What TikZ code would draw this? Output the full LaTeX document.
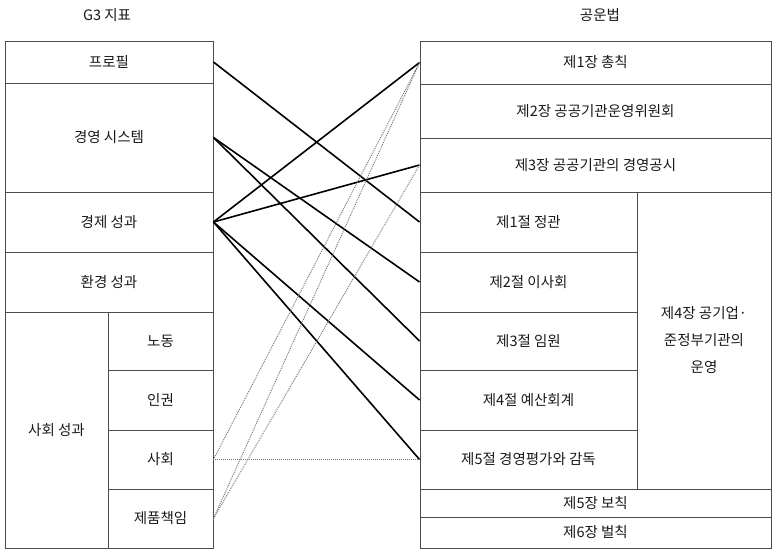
\documentclass[tikz,border=0pt]{standalone}
\usepackage{fontspec}
\setmainfont{Noto Sans CJK KR}
\begin{document}
\begin{tikzpicture}[x=1pt,y=-1pt,
  every node/.style={font=\fontsize{14.5}{27}\selectfont, text=black!90, inner sep=0pt},
  cell/.style={draw=black!70, line width=0.9pt, rectangle, align=center},
  link/.style={black, line width=1.6pt},
  dotlink/.style={black!55, line width=0.9pt, dash pattern=on 1pt off 1pt}]
\useasboundingbox (0,0) rectangle (772,550);
% titles
\node (t1) at (107,15) {G3 지표};
\node (t2) at (600,15) {공운법};
% left table
\node[cell, minimum width=208pt, minimum height=42pt] (prof) at (109,62) {프로필};
\node[cell, minimum width=208pt, minimum height=109pt] (sys) at (109,137.5) {경영 시스템};
\node[cell, minimum width=208pt, minimum height=60pt] (econ) at (109,222) {경제 성과};
\node[cell, minimum width=208pt, minimum height=60pt] (env) at (109,282) {환경 성과};
\node[cell, minimum width=103pt, minimum height=236pt] (soc) at (56.5,430) {사회 성과};
\node[cell, minimum width=105pt, minimum height=58pt] (labor) at (160.5,341) {노동};
\node[cell, minimum width=105pt, minimum height=60pt] (hr) at (160.5,400) {인권};
\node[cell, minimum width=105pt, minimum height=59pt] (society) at (160.5,459.5) {사회};
\node[cell, minimum width=105pt, minimum height=59pt] (prod) at (160.5,518.5) {제품책임};
% right table
\node[cell, minimum width=351pt, minimum height=43pt] (c1) at (595.5,62.5) {제1장 총칙};
\node[cell, minimum width=351pt, minimum height=54pt] (c2) at (595.5,111) {제2장 공공기관운영위원회};
\node[cell, minimum width=351pt, minimum height=54pt] (c3) at (595.5,165) {제3장 공공기관의 경영공시};
\node[cell, minimum width=217pt, minimum height=60pt] (s1) at (528.5,222) {제1절 정관};
\node[cell, minimum width=217pt, minimum height=60pt] (s2) at (528.5,282) {제2절 이사회};
\node[cell, minimum width=217pt, minimum height=58pt] (s3) at (528.5,341) {제3절 임원};
\node[cell, minimum width=217pt, minimum height=60pt] (s4) at (528.5,400) {제4절 예산회계};
\node[cell, minimum width=217pt, minimum height=59pt] (s5) at (528.5,459.5) {제5절 경영평가와 감독};
\node[cell, minimum width=134pt, minimum height=297pt] (c4) at (704,340.5) {제4장 공기업·\\준정부기관의\\운영};
\node[cell, minimum width=351pt, minimum height=28pt] (c5) at (595.5,503) {제5장 보칙};
\node[cell, minimum width=351pt, minimum height=31pt] (c6) at (595.5,532.5) {제6장 벌칙};
% connectors
\draw[link] (prof.east) -- (s1.west);
\draw[link] (sys.east) -- (s2.west);
\draw[link] (sys.east) -- (s3.west);
\draw[link] (econ.east) -- (c1.west);
\draw[link] (econ.east) -- (c3.west);
\draw[link] (econ.east) -- (s4.west);
\draw[link] (econ.east) -- (s5.west);
\draw[dotlink] (society.east) -- (s5.west);
\draw[dotlink] (society.east) -- (c1.west);
\draw[dotlink] (prod.east) -- (c1.west);
\draw[dotlink] (prod.east) -- (c3.west);
\end{tikzpicture}
\end{document}
